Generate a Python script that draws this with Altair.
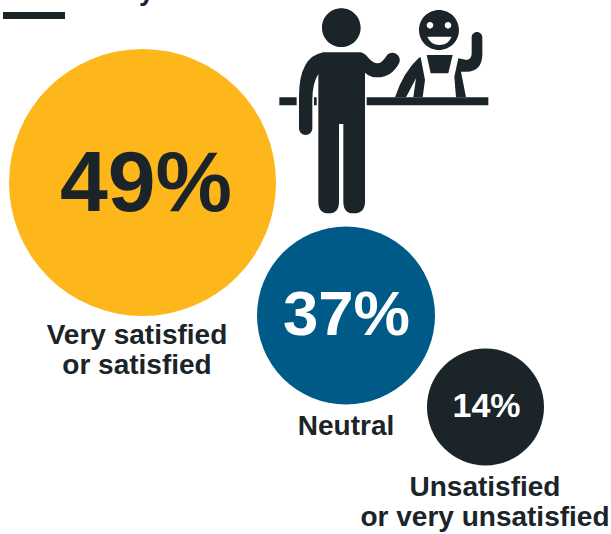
import altair as alt
import pandas as pd

# Survey shares and their labels
shares = [49, 37, 14]
share_labels = ["49%", "37%", "14%"]
centre_x = [142.5, 346, 485.5]
centre_y = [182.5, 315.5, 407]
circle_fills = ["#FDB71B", "#005A87", "#1A2429"]
label_colours = ["#1A2429", "#FFFFFF", "#FFFFFF"]
share_font_sizes = [86, 63.5, 34]
share_text_x = [146, 346.5, 486.5]
share_text_y = [185, 316, 407]
circle_areas = [71289, 31684, 13689]

caption_lines = ["Very satisfied", "or satisfied", "Neutral", "Unsatisfied", "or very unsatisfied"]
caption_x = [137, 137, 346, 485, 485]
caption_y = [336, 366, 427, 488, 518]

INK = "#1A2429"

# Pictogram outlines, in a 3x local grid
MAN = (
    "M214 25A58 58 0 1 1 214 141A58 58 0 1 1 214 25Z"
    "M160 157L272 157Q285 160 296 175Q310 190 322 190Q335 190 350 167"
    "A22 22 0 0 1 388 188Q365 232 322 232Q300 232 285 218L285 605"
    "Q285 640 250 640Q220 640 220 605L220 372L207 372L207 605Q207 640 176 640Q145 640 145 605"
    "L145 222Q127 250 127 300L127 385A20 20 0 0 1 87 385L87 290Q87 170 160 157Z"
)
COUNTER = (
    "M28 292L80 292L80 316L28 316Z"
    "M132 292L140 292L140 316L132 316Z"
    "M290 292L655 292L655 316L290 316Z"
)
SERVER = (
    "M507 30A60 60 0 1 1 507 150A60 60 0 1 1 507 30Z"
    "M470 165L548 165L535 220L482 220Z"
    "M447 173L452 172L465 240L458 292L430 292L438 235L408 292L375 292Q400 215 447 173Z"
    "M565 175L590 180Q605 178 605 160L605 112A16 16 0 0 1 637 112L637 165"
    "Q635 215 590 215L573 215L588 292L558 292L553 230Z"
)
FACE = (
    "M480 66A10 10 0 1 1 480 86A10 10 0 1 1 480 66Z"
    "M534 66A10 10 0 1 1 534 86A10 10 0 1 1 534 66Z"
    "M472 110L545 110Q535 135 508 135Q482 135 472 110Z"
)

circles = pd.DataFrame({
    "share": shares, "label": share_labels, "cx": centre_x, "cy": centre_y,
    "fill": circle_fills, "text_colour": label_colours,
    "font_size": share_font_sizes, "text_x": share_text_x, "text_y": share_text_y,
    "area": circle_areas,
})
captions = pd.DataFrame({"line": caption_lines, "x": caption_x, "y": caption_y})

x_scale = alt.Scale(domain=[0, 611], range=[0, 611])
y_scale = alt.Scale(domain=[0, 534], range=[0, 534])

bubbles = alt.Chart(circles).mark_circle(opacity=1).encode(
    x=alt.X("cx:Q", scale=x_scale, axis=None),
    y=alt.Y("cy:Q", scale=y_scale, axis=None),
    color=alt.Color("fill:N", scale=None),
    size=alt.Size("area:Q", scale=None),
)

share_text = alt.Chart(circles).mark_text(
    font="Liberation Sans", fontWeight="bold", baseline="middle", align="center"
).encode(
    x=alt.X("text_x:Q", scale=x_scale, axis=None),
    y=alt.Y("text_y:Q", scale=y_scale, axis=None),
    text="label:N",
    color=alt.Color("text_colour:N", scale=None),
    size=alt.Size("font_size:Q", scale=None),
)

caption_text = alt.Chart(captions).mark_text(
    font="Liberation Sans", fontWeight="bold", fontSize=28, color=INK,
    baseline="middle", align="center",
).encode(
    x=alt.X("x:Q", scale=x_scale, axis=None),
    y=alt.Y("y:Q", scale=y_scale, axis=None),
    text="line:N",
)


def pictogram(path, colour):
    # A size of 4/9 scales the outline to a third of its local grid
    return alt.Chart(pd.DataFrame({"k": [0]})).mark_point(
        shape=path, filled=True, size=4 / 9, opacity=1, color=colour, strokeWidth=0
    ).encode(x=alt.value(270), y=alt.value(0))


rule_mark = alt.Chart(pd.DataFrame({"k": [0]})).mark_rect(color=INK).encode(
    x=alt.value(3), x2=alt.value(65), y=alt.value(12), y2=alt.value(19)
)
cut_title = alt.Chart(pd.DataFrame({"t": ["y"]})).mark_text(
    font="Liberation Sans", fontWeight="bold", fontSize=27, color=INK,
    align="left", baseline="alphabetic",
).encode(x=alt.value(139), y=alt.value(0), text="t:N")

chart = alt.layer(
    bubbles, share_text, caption_text,
    pictogram(COUNTER, INK), pictogram(MAN, INK),
    pictogram(SERVER, INK), pictogram(FACE, "#FFFFFF"),
    rule_mark, cut_title,
).properties(
    width=611, height=534, padding=0,
    autosize=alt.AutoSizeParams(type="none"),
    background="#FFFFFF",
).configure_view(stroke=None)

chart.save("out.html", embed_options={"renderer": "svg", "actions": False})
